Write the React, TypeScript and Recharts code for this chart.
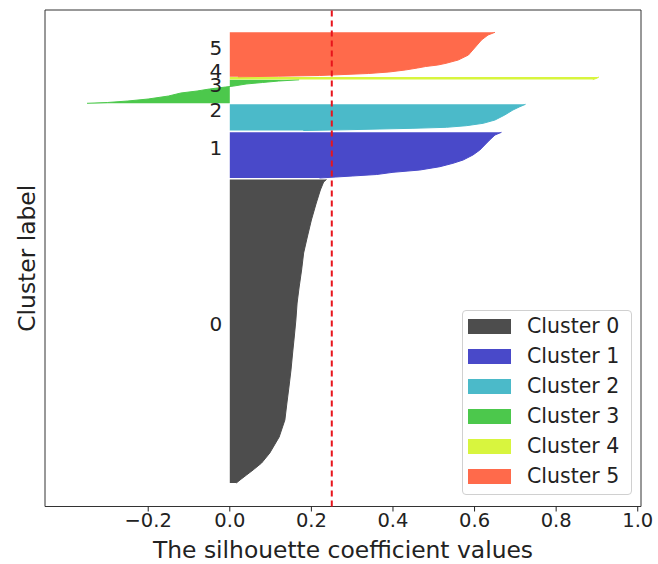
import React from 'react';
import {
  ComposedChart,
  Area,
  XAxis,
  YAxis,
  Legend,
  ReferenceLine,
  ReferenceArea,
  ReferenceDot,
} from 'recharts';

const FONT = '"DejaVu Sans", sans-serif';

const xTicks = [-0.2, 0, 0.2, 0.4, 0.6, 0.8, 1.0];
const clusterNames = ['Cluster 0', 'Cluster 1', 'Cluster 2', 'Cluster 3', 'Cluster 4', 'Cluster 5'];
const clusterColors = ['#4d4d4d', '#4949c9', '#4bbac9', '#4cc84c', '#d8f53e', '#ff6a4b'];
const avgSilhouette = 0.25;

// [sample position, silhouette value], sorted ascending within each cluster
const cluster0 = [
  [23.5, 0.016], [26.5, 0.025], [31.5, 0.041], [36.5, 0.057], [43.5, 0.078],
  [53.5, 0.098], [69.5, 0.121], [86.5, 0.135], [103.5, 0.14], [119.5, 0.145],
  [136.5, 0.15], [153.5, 0.154], [169.5, 0.158], [186.5, 0.162], [203.5, 0.165],
  [219.5, 0.17], [236.5, 0.176], [253.5, 0.181], [269.5, 0.19], [286.5, 0.2],
  [303.5, 0.212], [316.5, 0.222], [324.5, 0.23], [327, 0.237],
];
const cluster1 = [
  [328.5, 0.22], [329.5, 0.26], [330.5, 0.3], [332, 0.36], [334.2, 0.4],
  [336.5, 0.466], [339.8, 0.515], [343.2, 0.547], [346.5, 0.572], [351.5, 0.596],
  [356.5, 0.613], [361.5, 0.625], [366.5, 0.637], [371.5, 0.65], [374.2, 0.666],
];
const cluster2 = [
  [376, 0.18], [376.7, 0.28], [377.5, 0.368], [378.2, 0.449], [379.2, 0.531],
  [380.8, 0.58], [383.2, 0.621], [386.5, 0.65], [391.5, 0.674], [396.5, 0.694],
  [399.8, 0.711], [402.2, 0.725],
];
const cluster3 = [
  [403.2, -0.35], [404, -0.3], [405.5, -0.25], [407.5, -0.2], [410.5, -0.15],
  [413.5, -0.12], [415.5, -0.08], [417.5, -0.05], [419.5, -0.01], [420.5, 0.01],
  [422.5, 0.04], [424, 0.08], [425.5, 0.12], [426.7, 0.17],
];
const cluster4 = [[426.9, 0.89], [428.3, 0.9], [429.6, 0.905]];
const cluster5 = [
  [429.7, 0.02], [430.3, 0.12], [431, 0.22], [432, 0.28], [433, 0.34],
  [434.5, 0.39], [436.5, 0.43], [438.5, 0.46], [440, 0.48], [441.5, 0.51],
  [443.2, 0.53], [446.5, 0.56], [451.5, 0.585], [458.5, 0.6], [466.5, 0.617],
  [471.5, 0.633], [474.2, 0.65],
];
const clusters = [cluster0, cluster1, cluster2, cluster3, cluster4, cluster5];

const X_MIN = -0.453;
const X_MAX = 1.008;
const Y_MAX = 496.5;

const rows = clusters
  .flatMap((pts, i) => pts.map(([y, v]) => ({ y, [`c${i}`]: v } as Record<string, number>)))
  .sort((a, b) => a.y - b.y);

const labelSpots = clusters.map((pts, i) => ({
  label: String(i),
  y: (pts[0][0] + pts[pts.length - 1][0]) / 2,
}));

const fmt = (v: number) => (v < 0 ? '\u2212' : '') + Math.abs(v).toFixed(1);

const LegendBox = (props: any) => {
  const payload = props.payload || [];
  return (
    <div
      style={{
        boxSizing: 'border-box',
        width: 170,
        height: 185,
        border: '1px solid #d0d0d0',
        borderRadius: 4,
        background: 'rgba(255,255,255,0.85)',
        padding: '0 0 3px 5px',
        fontFamily: FONT,
        fontSize: 20.5,
        color: '#222',
      }}
    >
      {payload.map((p: any) => (
        <div key={p.value} style={{ height: 30, display: 'flex', alignItems: 'center' }}>
          <span
            style={{
              display: 'inline-block',
              width: 43,
              height: 15,
              background: p.color,
              marginRight: 16,
            }}
          />
          <span>{p.value}</span>
        </div>
      ))}
    </div>
  );
};

export default function App() {
  return (
    <div style={{ position: 'absolute', left: 0, top: 0, background: '#fff' }}>
      <ComposedChart
        width={658}
        height={564}
        layout="vertical"
        data={rows}
        margin={{ top: 10, right: 17, bottom: 0, left: 0 }}
      >
        <XAxis
          type="number"
          domain={[X_MIN, X_MAX]}
          allowDataOverflow
          ticks={xTicks}
          interval={0}
          tickFormatter={fmt}
          height={57.5}
          axisLine={false}
          tickLine={{ stroke: '#222' }}
          tickSize={5}
          tick={{ fontSize: 19.5, fill: '#222', fontFamily: FONT }}
          label={{
            content: (p: any) => (
              <text
                x={p.viewBox.x + p.viewBox.width / 2}
                y={p.viewBox.y + 51.5}
                textAnchor="middle"
                fontSize={23.4}
                fontFamily={FONT}
                fill="#222"
              >
                The silhouette coefficient values
              </text>
            ),
          }}
        />
        <YAxis
          type="number"
          dataKey="y"
          domain={[0, Y_MAX]}
          allowDataOverflow
          reversed
          width={45}
          tick={false}
          tickLine={false}
          axisLine={false}
          label={{
            content: (p: any) => {
              const cx = p.viewBox.x + 35;
              const cy = p.viewBox.y + p.viewBox.height / 2;
              return (
                <text
                  x={cx}
                  y={cy}
                  textAnchor="middle"
                  transform={`rotate(-90, ${cx}, ${cy})`}
                  fontSize={23.4}
                  fontFamily={FONT}
                  fill="#222"
                >
                  Cluster label
                </text>
              );
            },
          }}
        />
        {clusters.map((_, i) => (
          <Area
            key={i}
            dataKey={`c${i}`}
            name={clusterNames[i]}
            type="linear"
            fill={clusterColors[i]}
            fillOpacity={1}
            stroke={clusterColors[i]}
            strokeWidth={1}
            dot={false}
            activeDot={false}
            isAnimationActive={false}
          />
        ))}
        {labelSpots.map((s) => (
          <ReferenceDot
            key={s.label}
            x={-0.05}
            y={s.y}
            r={0}
            fill="none"
            stroke="none"
            label={(p: any) => (
              <text x={p.viewBox.x} y={p.viewBox.y} fontSize={20} fontFamily={FONT} fill="#222">
                {s.label}
              </text>
            )}
          />
        ))}
        <ReferenceLine x={avgSilhouette} stroke="#e8141c" strokeWidth={2} strokeDasharray="6 4" />
        <ReferenceArea x1={X_MIN} x2={X_MAX} y1={0} y2={Y_MAX} fill="none" stroke="#333" strokeWidth={1} />
        <Legend
          layout="vertical"
          align="center"
          verticalAlign="middle"
          content={LegendBox}
          wrapperStyle={{ position: 'absolute', left: 462, top: 310, width: 170, height: 185 }}
        />
      </ComposedChart>
    </div>
  );
}
